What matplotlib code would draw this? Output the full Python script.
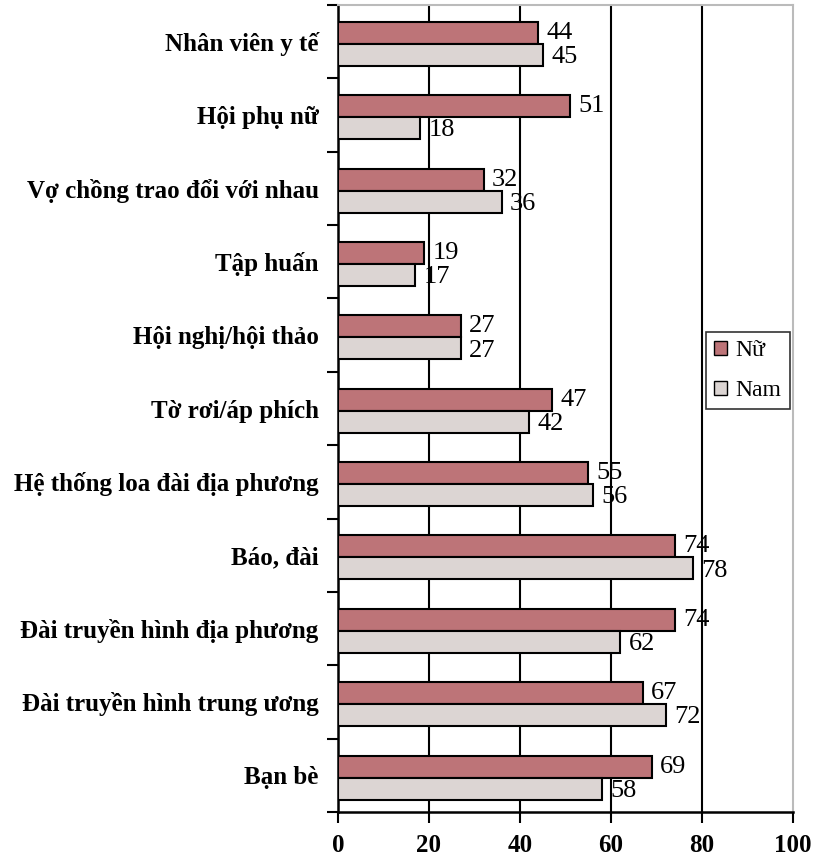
import numpy as np
import matplotlib
matplotlib.use("Agg")
import matplotlib.pyplot as plt
from matplotlib.patches import Patch

# ── data (top to bottom) ─────────────────────────────────────────────────────
categories = [
    "Nhân viên y tế",
    "Hội phụ nữ",
    "Vợ chồng trao đổi với nhau",
    "Tập huấn",
    "Hội nghị/hội thảo",
    "Tờ rơi/áp phích",
    "Hệ thống loa đài địa phương",
    "Báo, đài",
    "Đài truyền hình địa phương",
    "Đài truyền hình trung ương",
    "Bạn bè",
]
nu  = [44, 51, 32, 19, 27, 47, 55, 74, 74, 67, 69]
nam = [45, 18, 36, 17, 27, 42, 56, 78, 62, 72, 58]
x_ticks = [0, 20, 40, 60, 80, 100]

COL_NU  = "#BD7478"
COL_NAM = "#DCD5D3"

plt.rcParams["font.family"] = ["Liberation Serif", "DejaVu Serif"]

fig = plt.figure(figsize=(8.18, 8.61), dpi=100)
ax = fig.add_axes([0.4132, 0.0569, 0.9694 - 0.4132, 0.9942 - 0.0569])

n = len(categories)
pos = np.arange(n)[::-1].astype(float)   # first category at top
h = 0.3
y_nu = pos + h / 2 - 0.03
y_nam = pos - h / 2 - 0.03

ax.barh(y_nu, nu, height=h, color=COL_NU, edgecolor="black",
        linewidth=1.5, label="Nữ", zorder=3)
ax.barh(y_nam, nam, height=h, color=COL_NAM, edgecolor="black",
        linewidth=1.5, label="Nam", zorder=3)

for yn, ym, a, b in zip(y_nu, y_nam, nu, nam):
    ax.annotate(f"{a}", (a, yn), xytext=(6, 0),
                textcoords="offset points", va="center", ha="left", fontsize=19)
    ax.annotate(f"{b}", (b, ym - 0.03), xytext=(6, 0),
                textcoords="offset points", va="center", ha="left", fontsize=19)

ax.set_xlim(0, 100)
ax.set_ylim(-0.5, n - 0.5)
ax.set_xticks(x_ticks)
ax.set_xticklabels([str(v) for v in x_ticks], fontsize=18, fontweight="bold")

# category labels at centers, ticks at boundaries
ax.set_yticks(pos)
ax.set_yticklabels(categories, fontsize=18, fontweight="bold")
ax.tick_params(axis="y", which="major", length=0, pad=14)
ax.set_yticks(np.arange(n + 1) - 0.5, minor=True)
ax.tick_params(axis="y", which="minor", length=8, width=1.5, direction="out")
ax.tick_params(axis="x", length=8, width=1.5, direction="out", pad=8)

# gridlines
for v in x_ticks[1:-1]:
    ax.axvline(v, color="black", lw=1.5, zorder=1)

ax.spines["left"].set_linewidth(1.8)
ax.spines["bottom"].set_linewidth(1.8)
ax.spines["top"].set_color("#BBBBBB")
ax.spines["right"].set_color("#BBBBBB")
ax.spines["top"].set_linewidth(1.5)
ax.spines["right"].set_linewidth(1.5)

handles = [Patch(facecolor=COL_NU, edgecolor="black", label="Nữ"),
           Patch(facecolor=COL_NAM, edgecolor="black", label="Nam")]
leg = ax.legend(handles=handles, loc="upper right",
                bbox_to_anchor=(0.993, 0.595), fontsize=17, frameon=True,
                fancybox=False, edgecolor="black", handlelength=0.55,
                handleheight=0.55, handletextpad=0.35, borderpad=0.35,
                labelspacing=0.8, borderaxespad=0)
leg.get_frame().set_linewidth(1.2)

fig.savefig("out.png", dpi=100)
